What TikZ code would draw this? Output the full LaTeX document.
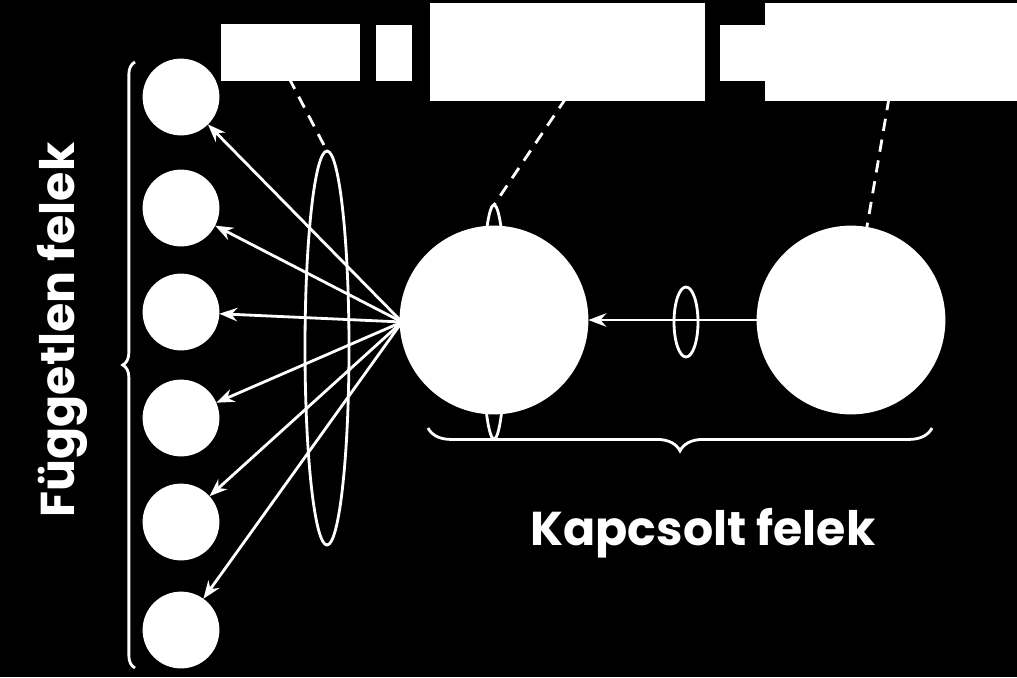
\documentclass[tikz,border=0pt]{standalone}
\usepackage{fontspec}
\setmainfont{Poppins}
\usetikzlibrary{positioning, arrows.meta, decorations.pathreplacing}

\begin{document}
\begin{tikzpicture}[x=0.02cm, y=-0.02cm, >=Stealth,
    every path/.style={line width=1.6pt, white},
    party/.style={circle, fill=white, draw=white, inner sep=0pt},
    box/.style={fill=white, draw=white, inner sep=0pt, anchor=north west},
    leader/.style={dashed, dash pattern=on 7pt off 5pt},
    caption/.style={font=\fontsize{27}{30}\selectfont\bfseries, text=white}
]
\fill[black] (0,0) rectangle (1017,677);
\useasboundingbox (0,0) rectangle (1017,677);

% Top boxes
\node (b1) [box, minimum width=2.72cm, minimum height=1.08cm] at (221,24) {};
\node (b2) [box, minimum width=0.66cm, minimum height=1.06cm] at (376,25) {};
\node (b3) [box, minimum width=5.44cm, minimum height=1.9cm] at (430,3) {};
\node (b4) [box, minimum width=0.9cm, minimum height=1.06cm] at (720,25) {};
\node (b5) [box, minimum width=5.04cm, minimum height=1.9cm] at (765,3) {};

% Relationship ellipses
\draw (327,348) ellipse [x radius=22, y radius=197];
\draw (494,322) ellipse [x radius=12, y radius=117];
\draw (686,322) ellipse [x radius=12, y radius=35];

% Coupled parties
\node (c1) [party, minimum size=3.72cm] at (494,320) {};
\node (c2) [party, minimum size=3.72cm] at (851,320) {};

% Independent parties
\foreach \i/\y in {1/97, 2/208, 3/312, 4/418, 5/522, 6/630}
    \node (p\i) [party, minimum size=1.48cm] at (181,\y) {};

% Arrows
\coordinate (hub) at (402,322);
\foreach \i in {1,...,6}
    \draw[->] (hub) -- (p\i);
\draw[->] (c2) -- (c1);

% Leaders
\coordinate (e1) at (327,151);
\coordinate (e2) at (494,205);
\draw[leader] (289,78) -- (e1);
\draw[leader] (566,98) -- (e2);
\draw[leader] (889,98) -- (c2);

% Braces
\draw[decorate, decoration={brace, amplitude=7pt}] (135,668) -- (135,62);
\draw[decorate, decoration={brace, amplitude=13pt}] (932,428) -- (428,428);

\node (kf) [caption] at (703,533) {Kapcsolt felek};
\node (ff) [caption, rotate=90] at (62,330) {Független felek};
\end{tikzpicture}
\end{document}
